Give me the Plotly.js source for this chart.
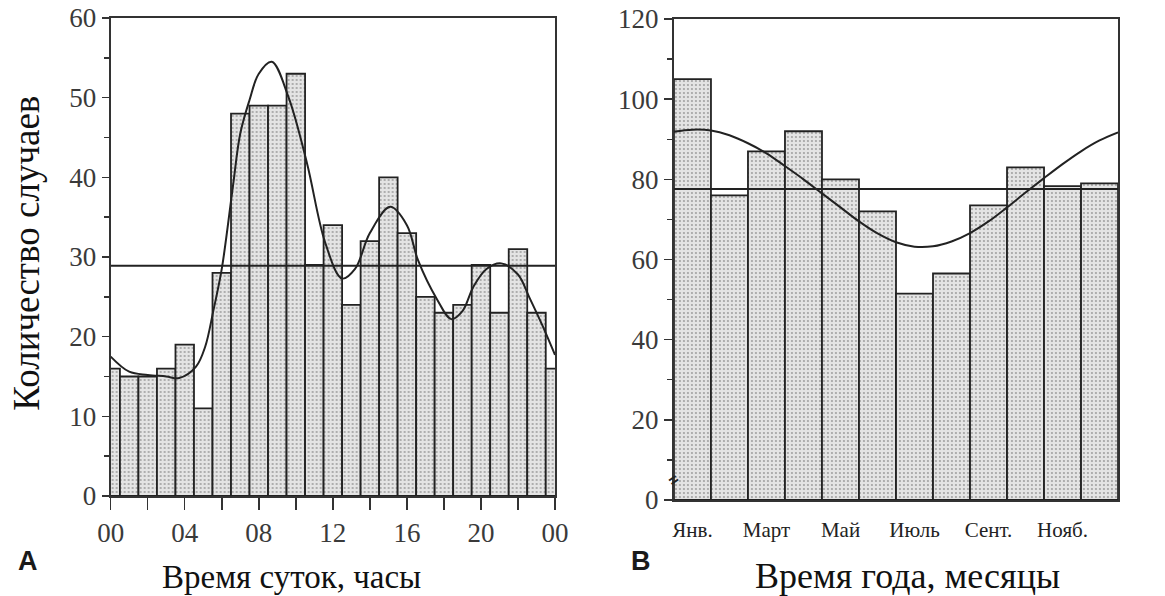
<!DOCTYPE html>
<html>
<head>
<meta charset="utf-8">
<script src="https://cdn.plot.ly/plotly-3.0.1.min.js"></script>
<style>html,body{margin:0;padding:0;background:#fff;}#chart{width:1165px;height:596px;}</style>
</head>
<body>
<div id="chart"></div>
<script>
// Panel A: cases by hour of day
const hours = [0,1,2,3,4,5,6,7,8,9,10,11,12,13,14,15,16,17,18,19,20,21,22,23,24];
const hourCounts = [16,15,15,16,19,11,28,48,49,49,53,29,34,24,32,40,33,25,23,24,29,23,31,23,16];
const hourMeanX = [0,24];
const hourMean = [28.9,28.9];
const hourCurveX = [0,1,2,3,3.7,4.6,5.1,5.55,6,6.6,7,7.5,8,8.7,9.6,10.6,11.6,12.5,13.2,14,15.1,16,16.6,17.6,18.4,19,19.6,20.3,21.1,22,22.6,23.3,24];
const hourCurve  = [17.5,15.6,15.2,15.0,14.8,16.2,18.7,23.3,28.5,38.8,45.5,49.7,53.0,54.5,50.1,41.8,31.7,27.3,28.5,33,36.3,34,29.6,24.8,22.2,23.2,26.3,28.5,29.2,27.8,25,21.5,17.7];
const hourTickVals = [0,2,4,6,8,10,12,14,16,18,20,22,24];
const hourTickText = ['00','','04','','08','','12','','16','','20','','00'];

// Panel B: cases by month
const months = [1,2,3,4,5,6,7,8,9,10,11,12];
const monthCounts = [105,76,87,92,80,72,51.5,56.5,73.5,83,78.3,79];
const monthMeanX = [0.5,12.5];
const monthMean = [77.6,77.6];
const monthCurveX = [0.5,1,1.5,2,2.5,3,3.5,4,4.5,5,5.5,6,6.5,7,7.5,8,8.5,9,9.5,10,10.5,11,11.5,12,12.5];
const monthCurve  = [91.9,92.4,92.2,91,89,86.5,83.3,80,76.5,73,69.5,66.5,64.3,63.2,63.3,64.5,66.6,69.5,73,76.7,80.3,83.8,87,89.7,91.7];
const monthTickVals = [1,3,5,7,9,11];
const monthTickText = ['Янв.','Март','Май','Июль','Сент.','Нояб.'];
const monthEdges = [0.5,1.5,2.5,3.5,4.5,5.5,6.5,7.5,8.5,9.5,10.5,11.5,12.5];

const serif = 'Liberation Serif';
const ink = '#222';
const barMarker = {
  color: '#dcdcdc',
  line: {color: ink, width: 1.8},
  pattern: {shape: '.', bgcolor: '#e4e4e4', fgcolor: '#9a9a9a', size: 4, solidity: 0.18, fillmode: 'replace'}
};
const lineStyle = {color: ink, width: 2};

const traces = [
  {type:'bar', x: hours, y: hourCounts, width: 1, marker: barMarker, xaxis:'x', yaxis:'y'},
  {type:'scatter', mode:'lines', x: hourMeanX, y: hourMean, line: lineStyle, xaxis:'x', yaxis:'y'},
  {type:'scatter', mode:'lines', x: hourCurveX, y: hourCurve, line: Object.assign({shape:'spline', smoothing:1}, lineStyle), xaxis:'x', yaxis:'y'},
  {type:'bar', x: months, y: monthCounts, width: 1, marker: barMarker, xaxis:'x2', yaxis:'y2'},
  {type:'scatter', mode:'lines', x: monthMeanX, y: monthMean, line: lineStyle, xaxis:'x2', yaxis:'y2'},
  {type:'scatter', mode:'lines', x: monthCurveX, y: monthCurve, line: Object.assign({shape:'spline', smoothing:1}, lineStyle), xaxis:'x2', yaxis:'y2'}
];

const axisBase = {
  showgrid: false, zeroline: false, showline: true, linecolor: '#333', linewidth: 2, mirror: true,
  ticks: 'outside', tickcolor: '#333', tickwidth: 1.5,
  tickfont: {family: serif, size: 27, color: '#3a3a3a'}, fixedrange: true
};

const layout = {
  width: 1165, height: 596,
  margin: {l:0, r:0, t:0, b:0},
  paper_bgcolor: '#fff', plot_bgcolor: '#fff',
  showlegend: false, bargap: 0,
  xaxis: Object.assign({}, axisBase, {
    domain: [0.0950, 0.4764], anchor: 'y', range: [0, 24],
    tickmode: 'array', tickvals: hourTickVals, ticktext: hourTickText, ticklen: 12
  }),
  yaxis: Object.assign({}, axisBase, {
    domain: [0.1678, 0.9698], anchor: 'x', range: [0, 60], dtick: 10, ticklen: 7,
    minor: {dtick: 5, ticks: 'outside', ticklen: 5, tickcolor: '#333'}
  }),
  xaxis2: Object.assign({}, axisBase, {
    domain: [0.5785, 0.9597], anchor: 'y2', range: [0.5, 12.5],
    tickmode: 'array', tickvals: monthTickVals, ticktext: monthTickText, ticks: '',
    ticklabelstandoff: 10,
    tickfont: {family: serif, size: 21, color: '#222'}
  }),
  xaxis3: {
    domain: [0.5785, 0.9597], anchor: 'y2', overlaying: 'x2', range: [0.5, 12.5],
    showgrid: false, zeroline: false, showline: false, showticklabels: false,
    tickmode: 'array', tickvals: monthEdges, ticks: 'outside', ticklen: 13, tickcolor: '#333', tickwidth: 1.5, fixedrange: true
  },
  yaxis2: Object.assign({}, axisBase, {
    domain: [0.1611, 0.9681], anchor: 'x2', range: [0, 120], dtick: 20, ticklen: 8,
    minor: {dtick: 10, ticks: 'outside', ticklen: 5, tickcolor: '#333'}
  }),
  annotations: [
    {text: 'Количество случаев', xref:'paper', yref:'paper', x: 0.022, y: 0.5755, textangle: -90,
     showarrow: false, font: {family: serif, size: 37, color: '#111'}, xanchor:'center', yanchor:'middle'},
    {text: 'Время суток, часы', xref:'paper', yref:'paper', x: 0.2506, y: 0.032,
     showarrow: false, font: {family: serif, size: 33, color: '#111'}, xanchor:'center', yanchor:'middle'},
    {text: 'Время года, месяцы', xref:'paper', yref:'paper', x: 0.779, y: 0.034,
     showarrow: false, font: {family: serif, size: 36, color: '#111'}, xanchor:'center', yanchor:'middle'},
    {text: '<b>A</b>', xref:'paper', yref:'paper', x: 0.024, y: 0.058,
     showarrow: false, font: {family: 'Liberation Sans', size: 27, color: '#1a1a1a'}, xanchor:'center', yanchor:'middle'},
    {text: '<b>B</b>', xref:'paper', yref:'paper', x: 0.550, y: 0.058,
     showarrow: false, font: {family: 'Liberation Sans', size: 27, color: '#1a1a1a'}, xanchor:'center', yanchor:'middle'},
    {text: '<b>=</b>', xref:'x2', yref:'y2', x: 0.5, y: 5, showarrow: false, textangle: -35,
     font: {family: 'Liberation Sans', size: 16, color: '#222'}, xanchor:'center', yanchor:'middle'}
  ]
};

Plotly.newPlot('chart', traces, layout, {displayModeBar: false, staticPlot: true});
</script>
</body>
</html>
